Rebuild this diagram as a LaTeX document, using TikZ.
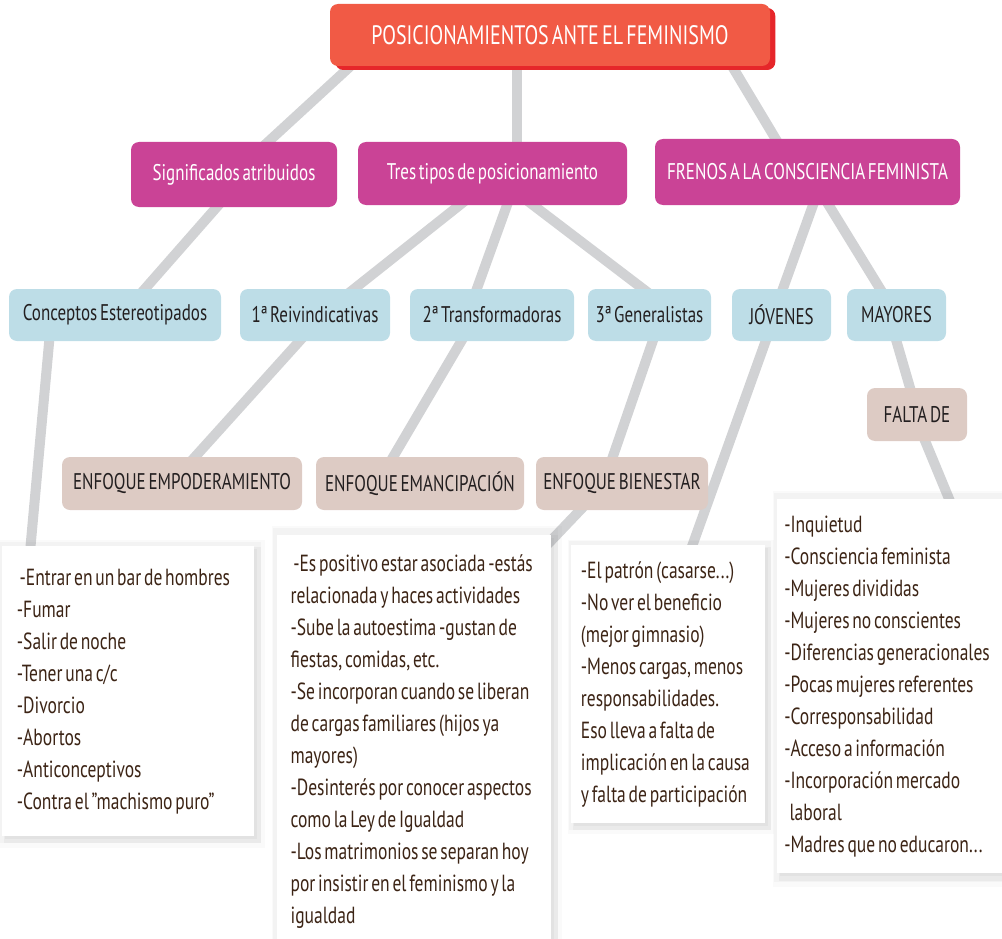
\documentclass[tikz,border=0pt]{standalone}
\usepackage{fontspec}
\setmainfont[FakeStretch=0.75,WordSpace=0.6]{PT Sans}
\usetikzlibrary{calc,shadows}
\definecolor{titlered}{HTML}{F15A45}
\definecolor{titleshade}{HTML}{E6262A}
\definecolor{frenopink}{HTML}{CA4396}
\definecolor{paleblue}{HTML}{BDDDE7}
\definecolor{paletan}{HTML}{DDCBC4}
\definecolor{linegray}{HTML}{D1D2D4}
\definecolor{textbrown}{HTML}{3C2415}
\definecolor{textdark}{HTML}{231F20}
\pgfdeclarelayer{background}
\pgfsetlayers{background,main}
\tikzset{
  titlebox/.style={fill=titlered, rounded corners=6pt, text=white, inner sep=0pt,
    font=\fontsize{20}{24}\selectfont,
    drop shadow={fill=titleshade, opacity=1, shadow xshift=4pt, shadow yshift=-3pt}},
  pinkbox/.style={fill=frenopink, rounded corners=6pt, text=white, inner sep=0pt,
    font=\fontsize{17}{20}\selectfont},
  bluebox/.style={fill=paleblue, rounded corners=6pt, text=textdark, inner sep=0pt,
    minimum height=39pt, font=\fontsize{17}{20}\selectfont},
  tanbox/.style={fill=paletan, rounded corners=6pt, text=textdark, inner sep=0pt,
    minimum height=39.75pt, font=\fontsize{17}{20}\selectfont},
  softshade/.style={
    drop shadow={opacity=0.04, shadow xshift=2pt, shadow yshift=-2pt, shadow scale=1.06},
    drop shadow={opacity=0.06, shadow xshift=1pt, shadow yshift=-1pt, shadow scale=1.04},
    drop shadow={opacity=0.08, shadow xshift=3pt, shadow yshift=-3pt, shadow scale=1.02},
    drop shadow={opacity=0.08, shadow xshift=2pt, shadow yshift=-2pt}},
  listbox/.style={fill=white, anchor=north west, align=flush left, inner ysep=0pt,
    text=textbrown, font=\fontsize{17.5}{24}\selectfont, softshade,
    execute at begin node={\hyphenpenalty=10000\parindent=0pt}},
  link/.style={linegray, line width=7.5pt}
}
\newcommand{\lead}{\hspace*{2pt}}
\begin{document}
\begin{tikzpicture}[x=0.75pt,y=-0.75pt]
    \useasboundingbox (0,0) rectangle (1002,938);
    % top
    \node[titlebox, minimum width=330pt, minimum height=46.5pt] (title) at (550,35)
      {POSICIONAMIENTOS ANTE EL FEMINISMO};
    \node[pinkbox, minimum width=154.5pt, minimum height=48.75pt] (sig) at (234,174.5)
      {Significados atribuidos};
    \node[pinkbox, minimum width=201.75pt, minimum height=47.25pt] (tres) at (492.5,173.5)
      {Tres tipos de posicionamiento};
    \node[pinkbox, minimum width=228.75pt, minimum height=49.5pt] (frenos) at (807.5,172)
      {FRENOS A LA CONSCIENCIA FEMINISTA};

    % second row
    \node[bluebox, minimum width=159pt] (conc) at (115,315) {Conceptos Estereotipados};
    \node[bluebox, minimum width=112.5pt] (reiv) at (315,315) {1ª Reivindicativas};
    \node[bluebox, minimum width=123pt] (transf) at (492,315) {2ª Transformadoras};
    \node[bluebox, minimum width=92.25pt] (gener) at (649.5,315) {3ª Generalistas};
    \node[bluebox, minimum width=74.25pt] (jov) at (781.5,315) {JÓVENES};
    \node[bluebox, minimum width=74.25pt] (may) at (896.5,315) {MAYORES};

    % enfoques
    \node[tanbox, minimum width=180pt] (empod) at (182,483.5) {ENFOQUE EMPODERAMIENTO};
    \node[tanbox, minimum width=156pt] (emanc) at (420,483.5) {\raisebox{-2pt}{ENFOQUE EMANCIPACIÓN}};
    \node[tanbox, minimum width=129pt] (bien) at (622,483.5) {ENFOQUE BIENESTAR};
    \node[tanbox, minimum width=75pt] (falta) at (917,414.5) {FALTA DE};

    % lists
    \node[listbox, minimum width=189pt, minimum height=217.5pt, text width=167pt, inner xsep=11pt]
      (listA) at (2,546)
      {\lead -Entrar en un bar de hombres\\-Fumar\\-Salir de noche\\-Tener una c/c\\-Divorcio\\
       -Abortos\\-Anticonceptivos\\-Contra el \symbol{34}machismo puro\symbol{34}};
    \node[listbox, minimum width=205.5pt, minimum height=309.75pt, text width=185.5pt, inner xsep=10pt]
      (listB) at (277,535)
      {\lead -Es positivo estar asociada -estás\\relacionada y haces actividades\\
       -Sube la autoestima -gustan de\\fiestas, comidas, etc.\\
       -Se incorporan cuando se liberan\\de cargas familiares (hijos ya\\mayores)\\
       -Desinterés por conocer aspectos\\como la Ley de Igualdad\\
       -Los matrimonios se separan hoy\\por insistir en el feminismo y la\\igualdad};
    \node[listbox, minimum width=145.5pt, minimum height=208.5pt, text width=131pt, inner xsep=7.25pt]
      (listC) at (571,545)
      {-El patrón (casarse...)\\-No ver el beneficio\\(mejor gimnasio)\\-Menos cargas, menos\\
       responsabilidades.\\Eso lleva a falta de\\implicación en la causa\\y falta de participación};
    \node[listbox, minimum width=168.75pt, minimum height=280.5pt, text width=158.25pt, inner xsep=5.25pt]
      (listD) at (777,499)
      {-Inquietud\\-Consciencia feminista\\-Mujeres divididas\\-Mujeres no conscientes\\
       -Diferencias generacionales\\-Pocas mujeres referentes\\-Corresponsabilidad\\
       -Acceso a información\\-Incorporación mercado\\\lead\lead laboral\\-Madres que no educaron...};

    % links
    \begin{pgfonlayer}{background}
      \draw[link] ($(title.south west)+(25,-4)$) -- ($(sig.north west)+(131,6)$);
      \draw[link] ($(title.south west)+(187,-4)$) -- ($(tres.north west)+(159,6)$);
      \draw[link] ($(title.south west)+(400,-4)$) -- ($(frenos.north west)+(125,7)$);
      \draw[link] ($(sig.south west)+(92,-7)$) -- ($(conc.north west)+(131,6)$);
      \draw[link] ($(tres.south west)+(108,-5)$) -- ($(reiv.north west)+(107,6)$);
      \draw[link] ($(tres.south west)+(151,-5)$) -- ($(transf.north west)+(65,6)$);
      \draw[link] ($(tres.south west)+(169,-5)$) -- ($(gener.north west)+(63,6)$);
      \draw[link] ($(frenos.south west)+(160,-5)$) -- ($(jov.north west)+(49,6)$);
      \draw[link] ($(frenos.south west)+(171,-5)$) -- ($(may.north west)+(37,6)$);
      \draw[link] ($(conc.south west)+(41,-6)$) -- ($(listA.north west)+(28,6)$);
      \draw[link] ($(reiv.south west)+(65,-6)$) -- ($(empod.north west)+(128,6)$);
      \draw[link] ($(transf.south west)+(55,-6)$) -- ($(emanc.north west)+(74,6)$);
      \draw[link] ($(gener.south west)+(67,-6)$) -- ($(bien.north west)+(75,6)$);
      \draw[link] ($(bien.south west)+(50,-6)$) -- ($(listB.north west)+(268,12)$);
      \draw[link] ($(jov.south west)+(36,-6)$) -- ($(listC.north west)+(119,7)$);
      \draw[link] ($(may.south west)+(48,-6)$) -- ($(falta.north west)+(45,6)$);
      \draw[link] ($(falta.south west)+(56,-6)$) -- ($(listD.north west)+(175,7)$);
    \end{pgfonlayer}
\end{tikzpicture}
\end{document}
